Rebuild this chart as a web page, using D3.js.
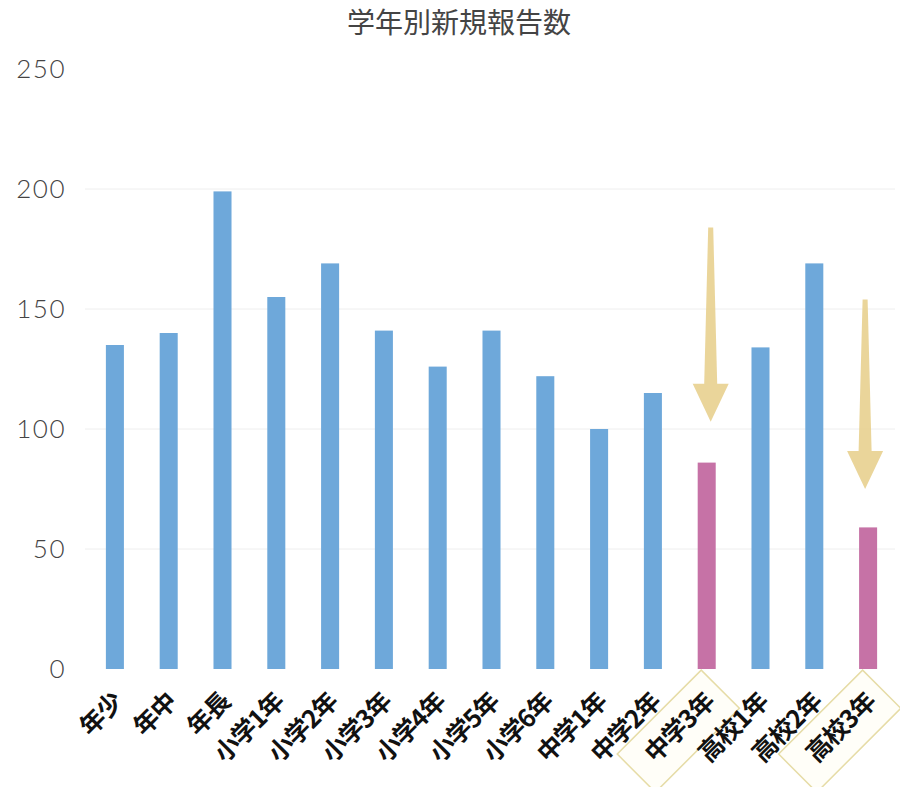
<!DOCTYPE html>
<html>
<head>
<meta charset="utf-8">
<script src="https://cdn.jsdelivr.net/npm/d3@7"></script>
<style>
  html, body { margin: 0; padding: 0; background: #ffffff; }
  svg { display: block; }
</style>
</head>
<body>
<svg id="chart" width="900" height="787"></svg>
<script>
// 学年別の新規報告数
const categories = ["年少", "年中", "年長", "小学1年", "小学2年", "小学3年", "小学4年", "小学5年",
                    "小学6年", "中学1年", "中学2年", "中学3年", "高校1年", "高校2年", "高校3年"];
const reports = [135, 140, 199, 155, 169, 141, 126, 141, 122, 100, 115, 86, 134, 169, 59];
// 強調する学年（受験学年）
const highlighted = ["中学3年", "高校3年"];
// 矢印：開始値 → 終了値
const arrowCats = ["中学3年", "高校3年"];
const arrowFrom = [184, 154];
const arrowTo = [103, 75];
const yTicks = [0, 50, 100, 150, 200, 250];
const title = "学年別新規報告数";

const svg = d3.select("#chart");

const x = d3.scaleBand()
  .domain(categories)
  .range([88, 895])
  .paddingInner(0.665)
  .paddingOuter(0.3325);

const y = d3.scaleLinear().domain([0, 250]).range([669, 69]);

// 目盛り線
svg.append("g")
  .selectAll("line")
  .data(yTicks.filter(t => t > 0 && t < 250))
  .join("line")
  .attr("x1", 85).attr("x2", 895)
  .attr("y1", d => y(d)).attr("y2", d => y(d))
  .attr("stroke", "#eeeeee")
  .attr("stroke-width", 1);

// Y軸
const yAxis = svg.append("g")
  .attr("transform", "translate(66,0)")
  .call(d3.axisLeft(y).tickValues(yTicks).tickSize(0).tickPadding(0));
yAxis.select(".domain").remove();
yAxis.selectAll("text")
  .attr("font-family", "Lato, 'Noto Sans', sans-serif")
  .attr("font-size", 26)
  .attr("font-weight", 300)
  .attr("letter-spacing", 1.5)
  .attr("fill", "#444");

// 棒
svg.append("g")
  .selectAll("rect")
  .data(categories.map((c, i) => ({ c, v: reports[i] })))
  .join("rect")
  .attr("x", d => x(d.c))
  .attr("width", x.bandwidth())
  .attr("y", d => y(d.v))
  .attr("height", d => y(0) - y(d.v))
  .attr("fill", d => highlighted.includes(d.c) ? "#c672a6" : "#6ea8da");

// 矢印
const arrowG = svg.append("g");
arrowCats.forEach((c, i) => {
  const cx = x(c) + x.bandwidth() / 2 + (i === 0 ? 4 : -3);
  const top = y(arrowFrom[i]);
  const tip = y(arrowTo[i]);
  const headLen = 38, headHalf = 18;
  const neck = tip - headLen;
  const path = d3.path();
  path.moveTo(cx - 2.5, top);
  path.lineTo(cx + 2.5, top);
  path.lineTo(cx + 6.5, neck);
  path.lineTo(cx + headHalf, neck);
  path.lineTo(cx, tip);
  path.lineTo(cx - headHalf, neck);
  path.lineTo(cx - 6.5, neck);
  path.closePath();
  arrowG.append("path")
    .attr("d", path.toString())
    .attr("fill", "#e7cf8c")
    .attr("opacity", 0.88);
});

// X軸ラベル（45度回転）
const labelG = svg.append("g");
const labels = labelG.selectAll("g")
  .data(categories)
  .join("g")
  .attr("transform", d => `translate(${x(d) + x.bandwidth() / 2 + 3},${697}) rotate(-45)`);

labels.append("text")
  .text(d => d)
  .attr("text-anchor", "end")
  .attr("dy", "0.35em")
  .attr("font-family", "'Noto Sans CJK JP', sans-serif")
  .attr("font-size", 25)
  .attr("font-weight", 700)
  .attr("letter-spacing", -1)
  .attr("fill", "#111");

// 強調ラベルの枠
labels.filter(d => highlighted.includes(d)).each(function () {
  const g = d3.select(this);
  const w = g.select("text").node().getComputedTextLength();
  g.insert("rect", "text")
    .attr("x", -w - 20)
    .attr("y", -25)
    .attr("width", w + 33)
    .attr("height", 54)
    .attr("fill", "#fffef8")
    .attr("stroke", "#e6dca6")
    .attr("stroke-width", 1.5);
});

// タイトル
svg.append("text")
  .attr("x", 459)
  .attr("y", 33)
  .attr("text-anchor", "middle")
  .attr("font-family", "'Noto Sans CJK JP', sans-serif")
  .attr("font-size", 28)
  .attr("font-weight", 400)
  .attr("fill", "#444")
  .text(title);
</script>
</body>
</html>
